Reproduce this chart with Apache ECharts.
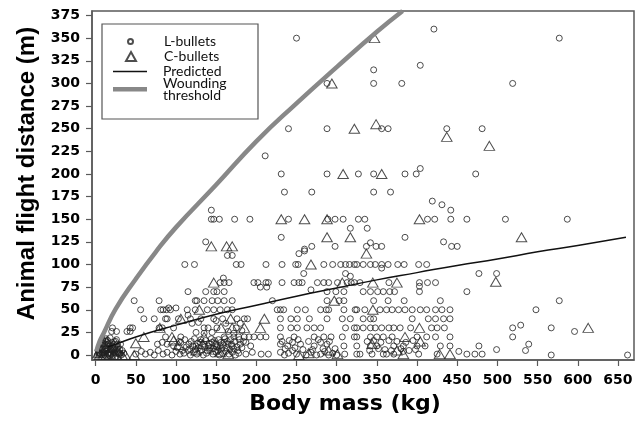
<!DOCTYPE html>
<html>
<head>
<meta charset="utf-8">
<script src="https://cdn.jsdelivr.net/npm/echarts@6/dist/echarts.min.js"></script>
<style>
html,body{margin:0;padding:0;background:#fff}
#main{width:641px;height:423px}
</style>
</head>
<body>
<div id="main"></div>
<script>
// tick values
var xTicks = [0,50,100,150,200,250,300,350,400,450,500,550,600,650];
var yTicks = [0,25,50,75,100,125,150,175,200,225,250,275,300,325,350,375];

// L-bullets: [body mass kg, flight distance m]
var lBullets = [
  [250,350],[421,360],[577,350],[404,320],[346,315],[288,300],[346,300],[381,300],[519,300],
  [240,250],[288,250],[356,250],[364,250],[437,250],[481,250],[211,220],
  [231,200],[288,200],[327,200],[346,200],[385,200],[399,200],[404,206],[473,200],
  [235,180],[269,180],[346,180],[367,180],[419,170],[431,166],[442,160],[144,160],
  [144,150],[147,150],[154,150],[173,150],[192,150],[240,150],[289,150],[298,150],[308,150],[327,150],[335,150],
  [413,150],[422,150],[442,150],[462,150],[510,150],[587,150],
  [317,140],[338,140],[231,130],[385,130],[137,125],[433,125],[342,124],
  [269,120],[298,120],[337,120],[349,120],[356,120],[443,120],[450,120],[260,117],
  [164,110],[170,110],[253,112],[260,115],
  [111,100],[123,100],[175,100],[181,100],[212,100],[232,100],[249,100],[252,100],[284,100],[295,100],[305,100],
  [311,100],[316,100],[322,100],[325,100],[333,100],[342,100],[348,100],[356,100],[364,100],[376,100],[384,100],
  [402,100],[412,100],[356,96],
  [259,90],[311,90],[317,87],[477,90],[499,90],[159,85],
  [155,80],[160,80],[166,80],[197,80],[202,80],[212,80],[215,80],[232,80],[247,80],[253,80],[257,80],[276,80],
  [284,80],[290,80],[301,80],[313,80],[318,80],[322,80],[329,80],[365,80],[403,80],[413,80],[423,80],
  [205,75],[213,75],[403,76],
  [115,70],[137,70],[147,70],[151,70],[160,70],[268,72],[288,70],[299,70],[309,70],[333,70],[342,70],[351,70],
  [358,70],[366,70],[372,70],[403,70],[462,70],
  [48,60],[79,60],[124,60],[126,60],[135,60],[145,60],[152,60],[160,60],[170,60],[220,60],[288,60],[303,60],
  [309,60],[346,60],[364,60],[384,60],[429,60],[577,60],
  [56,50],[81,50],[84,50],[88,50],[93,50],[91,52],[100,52],[114,50],[124,50],[139,50],[147,50],[155,50],[164,50],
  [170,50],[226,50],[230,50],[234,50],[251,50],[261,50],[280,50],[287,50],[290,50],[309,50],[323,50],[325,50],
  [335,50],[354,50],[362,50],[369,50],[377,50],[385,50],[394,50],[404,50],[412,50],[423,50],[431,50],[441,50],[548,50],
  [60,40],[73,40],[87,40],[89,40],[103,40],[118,40],[131,40],[147,40],[158,40],[176,40],[185,40],[189,40],
  [230,40],[243,40],[251,40],[266,40],[288,40],[307,40],[317,40],[333,40],[342,40],[346,40],[394,40],[414,40],
  [423,40],[433,40],[441,40],[115,44],
  [21,30],[43,30],[46,30],[79,30],[83,30],[97,30],[135,30],[151,30],[230,30],[243,30],[251,30],[263,30],[272,30],
  [280,30],[311,30],[322,30],[325,30],[333,30],[342,30],[348,30],[356,30],[365,30],[371,30],[379,30],[392,30],
  [418,30],[425,30],[434,30],[519,30],[529,33],[567,30],[596,26],
  [20,26],[26,26],[39,26],[43,26],
  [125,25],[135,24],[140,30],[145,25],[165,26],[175,30],[180,35],[120,35],[128,36],[150,38],[162,35],[172,24],[182,27],
  [87,20],[106,20],[160,20],[172,20],[178,20],[185,20],[191,20],[197,20],[205,20],[212,20],[230,20],[247,20],
  [272,20],[284,20],[293,20],[307,20],[322,20],[325,20],[342,20],[350,20],[358,20],[369,20],[400,20],[412,20],
  [423,20],[441,20],[519,20],
  [10,10],[77,12],[83,14],[89,12],[97,10],[106,14],[116,12],[125,10],[130,14],[135,12],[140,10],[145,14],[150,12],
  [155,10],[160,14],[165,12],[170,10],[180,12],[187,14],[193,10],[230,12],[239,10],[245,14],[255,12],[272,10],
  [280,14],[288,12],[309,10],[325,10],[342,10],[350,10],[371,10],[383,10],[400,10],[410,10],[429,10],[441,10],
  [477,10],[539,12],
  [102,8],[104,15],[108,5],[111,17],[113,9],[117,7],[119,15],[121,10],[123,18],[124,6],[127,13],[128,8],[131,17],
  [132,6],[136,9],[137,16],[139,5],[141,13],[143,8],[144,18],[147,7],[148,16],[151,9],[152,5],[153,17],[156,14],
  [157,7],[159,11],[161,18],[163,8],[164,15],[167,6],[168,17],[169,12],[172,7],[173,15],[176,9],[177,5],[179,17],
  [182,8],[184,15],
  [232,15],[236,7],[241,16],[248,8],[252,17],[258,6],[265,15],[270,6],[277,17],[283,7],[291,15],[298,7],
  [338,15],[341,5],[346,16],[352,7],[355,14],[360,6],[365,16],[368,5],[375,15],[380,7],[386,14],[390,5],[395,16],[398,6],
  [5,2],[8,0],[12,4],[15,1],[18,3],[22,0],[25,5],[28,2],[35,2],[50,1],[57,4],[62,1],[68,3],[73,0],[78,5],[84,1],
  [89,3],[95,0],[100,4],[105,1],[110,2],[115,5],[118,0],[122,3],[126,1],[130,4],[134,0],[138,2],[142,5],[146,1],
  [150,3],[154,0],[158,2],[162,4],[166,1],[170,3],[174,0],[178,2],[187,1],[195,3],[206,1],[215,1],[230,3],[235,0],
  [240,2],[245,5],[250,1],[262,0],[268,3],[275,0],[280,1],[285,4],[290,0],[295,2],[300,0],[310,1],[325,1],[329,1],
  [344,1],[358,1],[362,1],[371,1],[383,4],[402,1],[425,1],[452,4],[462,1],[472,1],[481,1],[499,6],[535,5],[567,0],[662,0],
  [3,5],[6,8],[9,12],[12,15],[14,8],[16,12],[19,6],[21,10],[24,8],[27,12],[30,6],[4,1],[10,3],[17,0],[23,3],[29,1],
  [33,5],[13,18],[7,14],[11,6],[20,14],[26,17],
  [2,0],[4,3],[6,1],[8,6],[9,2],[11,0],[13,4],[14,11],[15,7],[16,2],[18,10],[19,1],[20,5],[22,12],[23,7],[24,2],
  [25,15],[27,4],[28,9],[30,2],[31,12],[32,0],[15,16],[18,19],[9,17]
];

// C-bullets
var cBullets = [
  [347,350],[294,300],[322,250],[349,255],[437,241],[490,231],[308,200],[356,200],
  [231,150],[260,150],[288,150],[403,150],[288,130],[317,130],[530,130],
  [144,120],[163,120],[170,120],[337,112],[268,100],[147,80],[307,80],[345,80],[375,80],[498,81],
  [297,60],[129,50],[345,50],[106,40],[168,40],[210,40],[80,30],[156,30],[170,30],[185,30],[205,30],
  [403,30],[613,30],[60,20],[95,20],[135,20],[385,20],
  [10,15],[14,15],[24,14],[50,13],[97,16],[103,11],[133,12],[149,12],[344,12],[404,15],
  [5,0],[10,0],[13,0],[23,0],[26,0],[37,0],[48,0],[253,0],[383,1],[428,1],[441,1],
  [3,2],[7,5],[12,8],[17,4],[20,9],[28,5],[18,1],[33,0],[125,5],[155,3],[165,1],[148,6],[290,5],[301,1],[265,2],[375,5]
];

// fitted curves
var predicted = [[15,9],[25,12],[50,20],[100,33],[150,45],[200,55],[250,65],[300,74],[350,83],[400,91],[450,99],[500,106],[550,114],[600,121],[660,130]];
var threshold = [[1,4],[5,15],[10,24],[25,51],[50,84],[75,114],[100,141],[150,188],[200,236],[250,278],[300,318],[350,357],[382,380]];

var myChart = echarts.init(document.getElementById('main'));

var lblFont = {color:'#000', fontFamily:'DejaVu Sans', fontWeight:'bold', fontSize:14};

function legFont(pad){
    return {color:'#111', fontFamily:'Lato', fontSize:14, lineHeight:15, padding:[0,0,0,pad]};
}

var option = {
    animation: false,
    backgroundColor: '#fff',
    grid: {left:92, right:7, top:11, bottom:63, show:true, borderColor:'#5a5a5a', borderWidth:1.5},
    graphic: [{
        type:'rect', z:3, shape:{x:102, y:24, width:156, height:95},
        style:{fill:'#fff', stroke:'#555', lineWidth:1.2}
    }],
    legend: [
        {data:['L-bullets'], left:127, top:34, padding:0, itemWidth:5, itemHeight:5, textStyle:legFont(26)},
        {data:['C-bullets'], left:125, top:49, padding:0, itemWidth:10, itemHeight:9, textStyle:legFont(23)},
        {data:[{name:'Predicted', icon:'rect'}], left:113, top:64, padding:0, itemWidth:34, itemHeight:1.6,
         textStyle:legFont(11)},
        {data:[{name:'Wounding threshold', icon:'rect'}], left:113, top:76, padding:0, itemWidth:34, itemHeight:4.5,
         formatter:function(n){ return 'Wounding\nthreshold'; },
         textStyle:{color:'#111', fontFamily:'Lato', fontSize:14, lineHeight:12.7, padding:[0,0,0,11]}}
    ],
    xAxis: {
        type:'value', min:-4.5, max:670,
        name:'Body mass (kg)', nameLocation:'middle', nameGap:33,
        nameTextStyle:{color:'#000', fontFamily:'DejaVu Sans', fontWeight:'bold', fontSize:22, padding:[0,36,0,0]},
        axisLine:{show:true, onZero:false, lineStyle:{color:'#5a5a5a', width:1.5}},
        axisTick:{show:true, length:6, customValues:xTicks, lineStyle:{color:'#5a5a5a', width:1.2}},
        axisLabel:Object.assign({customValues:xTicks, margin:13}, lblFont),
        splitLine:{show:false}
    },
    yAxis: {
        type:'value', min:-5.5, max:380,
        name:'Animal flight distance (m)', nameLocation:'middle', nameGap:53,
        nameTextStyle:{color:'#000', fontFamily:'Liberation Sans', fontWeight:'bold', fontSize:24, padding:[0,0,0,24]},
        axisLine:{show:true, onZero:false, lineStyle:{color:'#5a5a5a', width:1.5}},
        axisTick:{show:true, length:6, customValues:yTicks, lineStyle:{color:'#5a5a5a', width:1.2}},
        axisLabel:Object.assign({customValues:yTicks, margin:12}, lblFont),
        splitLine:{show:false}
    },
    series: [
        {
            name:'L-bullets', type:'scatter', data:lBullets,
            symbol:'circle', symbolSize:6,
            itemStyle:{color:'rgba(0,0,0,0)', borderColor:'#222', borderWidth:1}
        },
        {
            name:'C-bullets', type:'scatter', data:cBullets,
            symbol:'triangle', symbolSize:[10.5,9], symbolKeepAspect:true,
            itemStyle:{color:'rgba(0,0,0,0)', borderColor:'#222', borderWidth:1}
        },
        {
            name:'Predicted', type:'line', data:predicted, smooth:true, symbol:'none',
            lineStyle:{color:'#111', width:1.5}, itemStyle:{color:'#111'}
        },
        {
            name:'Wounding threshold', type:'line', data:threshold, smooth:true, symbol:'none',
            lineStyle:{color:'#888', width:4.5}, itemStyle:{color:'#888'}
        }
    ]
};
myChart.setOption(option);
</script>
</body>
</html>
